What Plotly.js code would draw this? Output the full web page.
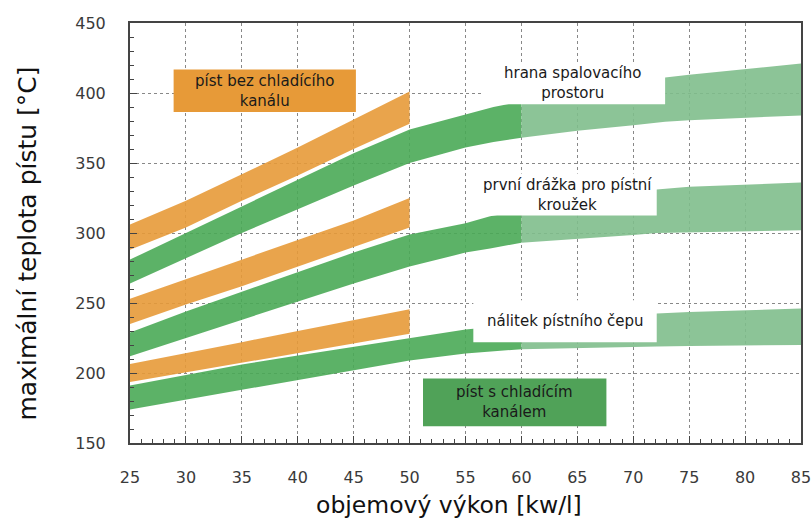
<!DOCTYPE html>
<html>
<head>
<meta charset="utf-8">
<script src="https://cdn.plot.ly/plotly-3.0.1.min.js"></script>
<style>html,body{margin:0;padding:0;background:#fff;}#chart{width:811px;height:527px;}</style>
</head>
<body>
<div id="chart"></div>
<script>
// ---- data ----
const orangeX = [25, 30, 35, 40, 45, 50];
const orangeUpperLo = [288, 304, 323, 341, 360, 378];
const orangeUpperHi = [306, 323, 342, 361, 381, 401];
const orangeMidLo = [235, 249, 262, 276, 290, 304];
const orangeMidHi = [253, 267, 281, 295, 309, 325];
const orangeLowLo = [193.5, 200.5, 207.5, 214, 221, 228];
const orangeLowHi = [206.5, 214, 222, 230, 237.5, 245.5];

const greenUpperDarkX = [25, 30, 35, 40, 45, 50, 55, 57.5, 60];
const greenUpperDarkLo = [264, 282, 300, 317, 334, 350, 361, 365, 368];
const greenUpperDarkHi = [281, 300, 319, 338, 357, 374, 385, 390, 394];
const greenUpperLightX = [60, 65, 70, 72.85, 75, 80, 85];
const greenUpperLightLo = [368, 373, 377, 379.5, 380.5, 382, 384];
const greenUpperLightHi = [394, 401, 407, 411, 413, 417, 421];

const greenMidDarkX = [25, 30, 35, 40, 45, 50, 55, 57.2, 60];
const greenMidDarkLo = [212, 225, 238, 251, 264, 276, 286, 289, 293];
const greenMidDarkHi = [229, 244, 258, 272, 286, 299, 307, 312, 316];
const greenMidLightX = [60, 65, 70, 72.1, 75, 80, 85];
const greenMidLightLo = [293, 295.5, 298.5, 300, 300.5, 301, 302];
const greenMidLightHi = [316, 322, 328, 331, 333, 334.5, 336];

const greenLowDarkX = [25, 30, 35, 40, 45, 50, 55, 60];
const greenLowDarkLo = [174, 181, 188, 195, 202, 209, 214, 217];
const greenLowDarkHi = [191, 198.5, 206, 212.5, 218.5, 225, 231, 235];
const greenLowLightX = [60, 65, 70, 72.1, 75, 80, 85];
const greenLowLightLo = [217, 218, 219, 219, 219.3, 219.5, 220];
const greenLowLightHi = [235, 238, 241, 242.5, 243.5, 245, 246];

const xTicks = [25, 30, 35, 40, 45, 50, 55, 60, 65, 70, 75, 80, 85];
const yTicks = [150, 200, 250, 300, 350, 400, 450];

// ---- styles ----
const ORANGE = 'rgba(231,154,56,0.9)';
const DARK = 'rgba(74,170,86,0.9)';
const LIGHT = 'rgba(128,190,140,0.9)';
const FONT = 'DejaVu Sans, Verdana, sans-serif';

function band(x, lo, hi, color) {
  return [
    {x: x, y: lo, type: 'scatter', mode: 'lines', line: {width: 0, color: color}, hoverinfo: 'skip', showlegend: false},
    {x: x, y: hi, type: 'scatter', mode: 'lines', line: {width: 0, color: color}, fill: 'tonexty', fillcolor: color, hoverinfo: 'skip', showlegend: false}
  ];
}

const traces = [].concat(
  band(orangeX, orangeUpperLo, orangeUpperHi, ORANGE),
  band(orangeX, orangeMidLo, orangeMidHi, ORANGE),
  band(orangeX, orangeLowLo, orangeLowHi, ORANGE),
  band(greenUpperDarkX, greenUpperDarkLo, greenUpperDarkHi, DARK),
  band(greenUpperLightX, greenUpperLightLo, greenUpperLightHi, LIGHT),
  band(greenMidDarkX, greenMidDarkLo, greenMidDarkHi, DARK),
  band(greenMidLightX, greenMidLightLo, greenMidLightHi, LIGHT),
  band(greenLowDarkX, greenLowDarkLo, greenLowDarkHi, DARK),
  band(greenLowLightX, greenLowLightLo, greenLowLightHi, LIGHT)
);

function box(x0, x1, y0, y1, color) {
  return {type: 'rect', xref: 'x', yref: 'y', x0: x0, x1: x1, y0: y0, y1: y1,
          fillcolor: color, line: {width: 0}, layer: 'above'};
}
function label(x, y, text) {
  return {xref: 'x', yref: 'y', x: x, y: y, text: text, showarrow: false,
          font: {family: FONT, size: 15, color: '#1a1a1a'}, align: 'center'};
}

const layout = {
  width: 811, height: 527,
  margin: {l: 130, r: 10, t: 23, b: 84},
  paper_bgcolor: '#fff', plot_bgcolor: '#fff',
  showlegend: false,
  font: {family: FONT, color: '#333'},
  xaxis: {
    range: [25, 85], tickvals: xTicks, ticktext: xTicks.map(String),
    showgrid: true, gridcolor: '#888', griddash: 'dot', gridwidth: 1,
    showline: true, linecolor: '#444', linewidth: 2, mirror: true,
    ticks: 'inside', ticklen: 7, tickcolor: '#444', ticklabelstandoff: 19,
    ticklabeloverflow: 'allow',
    tickfont: {family: FONT, size: 16, color: '#3a3a3a'}, zeroline: false,
    minor: {dtick: 1, tick0: 25, ticks: 'inside', ticklen: 4, tickcolor: '#444', showgrid: false}
  },
  yaxis: {
    range: [150, 450], tickvals: yTicks, ticktext: yTicks.map(String),
    showgrid: true, gridcolor: '#888', griddash: 'dot', gridwidth: 1,
    showline: true, linecolor: '#444', linewidth: 2, mirror: true,
    ticks: 'inside', ticklen: 7, tickcolor: '#444', ticklabelstandoff: 19,
    ticklabeloverflow: 'allow',
    tickfont: {family: FONT, size: 16, color: '#3a3a3a'}, zeroline: false,
    minor: {dtick: 10, tick0: 150, ticks: 'inside', ticklen: 4, tickcolor: '#444', showgrid: false}
  },
  shapes: [
    box(28.9, 45.2, 386.4, 416.7, 'rgb(231,154,56)'),
    box(51.2, 67.6, 162, 196, 'rgb(80,162,88)'),
    box(56.4, 72.85, 392, 422, '#ffffff'),
    box(56.0, 72.1, 312.5, 342.5, '#ffffff'),
    box(55.7, 72.1, 222, 252, '#ffffff')
  ],
  annotations: [
    label(37.05, 401.5, 'píst bez chladícího<br>kanálu'),
    label(59.4, 179, 'píst s chladícím<br>kanálem'),
    label(64.6, 407, 'hrana spalovacího<br>prostoru'),
    label(64.1, 327, 'první drážka pro pístní<br>kroužek'),
    label(63.9, 237.5, 'nálitek pístního čepu'),
    {xref: 'paper', yref: 'paper', x: 0.475, y: -0.148, text: 'objemový výkon [kw/l]', showarrow: false,
     font: {family: FONT, size: 23.5, color: '#111'}, xanchor: 'center', yanchor: 'middle'},
    {xref: 'paper', yref: 'paper', x: -0.1535, y: 0.475, text: 'maximální teplota pístu [°C]', showarrow: false,
     textangle: -90, font: {family: FONT, size: 25, color: '#111'}, xanchor: 'center', yanchor: 'middle'}
  ]
};

Plotly.newPlot('chart', traces, layout, {displayModeBar: false, staticPlot: true});
</script>
</body>
</html>
